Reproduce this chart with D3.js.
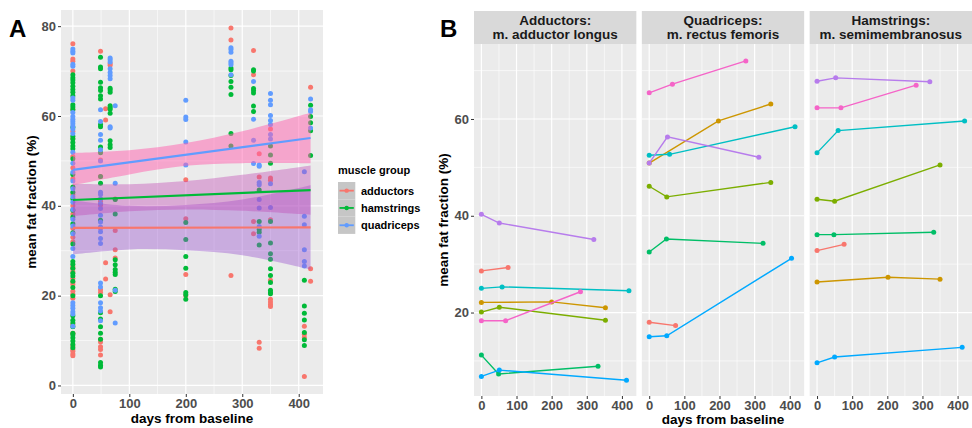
<!DOCTYPE html>
<html lang="en">
  <head>
    <meta charset="UTF-8" />
    <title>mean fat fraction</title>
    <style>
      * {
        margin: 0;
        padding: 0;
      }
      body {
        background: #fff;
      }
      svg text {
        font-family: 'Liberation Sans', Arial, sans-serif;
        font-weight: bold;
      }
    </style>
  </head>
  <body>
    <script src="https://cdn.jsdelivr.net/npm/d3@7"></script>
    <script>
      // ---- panel A data ----
      const groups = ['adductors', 'hamstrings', 'quadriceps']
      const groupColors = ['#F8766D', '#00BA38', '#619CFF']

      // [day, values at that day]
      const adductorPts = [
        [0, [76.1, 72.7, 72.2, 70.0, 61.5, 56.6, 55.0, 51.0, 48.5, 46.0, 42.5, 40.0, 38.2, 35.0, 33.0, 32.0, 26.5, 26.0, 25.3, 23.8, 23.0, 22.5, 21.0, 20.3, 19.4, 13.5, 11.6, 8.8, 8.0, 7.6, 7.0, 6.6]],
        [49, [74.4, 50.2, 46.5, 41.0, 40.2, 35.0, 21.3, 20.7, 10.3, 9.7, 8.6, 8.0, 6.8]],
        [58, [61.6, 59.1, 27.3, 23.7]],
        [66, [71.7, 71.3, 20.2, 16.4]],
        [75, [41.5, 34.5, 30.2, 28.4]],
        [200, [45.8, 37.1, 24.7, 20.0]],
        [280, [79.6, 76.9, 24.5]],
        [320, [74.6, 69.2, 36.5, 33.8]],
        [330, [51.6, 46.4, 9.6, 8.3]],
        [350, [57.1, 46.2, 45.7, 36.9, 23.4, 19.2, 18.6, 18.0, 17.6]],
        [410, [13.2, 11.4, 10.7, 2.0]],
        [421, [66.4, 26.0, 23.2]]
      ]
      const hamstringPts = [
        [0, [69.2, 68.5, 68.0, 67.4, 66.6, 65.9, 65.3, 64.5, 62.5, 62.0, 61.4, 57.5, 55.5, 54.9, 54.1, 53.3, 52.7, 50.5, 47.0, 44.2, 43.0, 41.5, 39.0, 37.5, 36.0, 34.0, 31.5, 27.6, 27.0, 26.1, 25.0, 24.4, 23.2, 21.8, 20.0, 15.5, 14.5, 13.9, 13.1, 11.6, 11.3, 10.6, 9.9, 9.1, 8.4]],
        [49, [73.1, 70.9, 70.5, 67.5, 66.3, 65.7, 64.5, 63.8, 58.1, 57.6, 53.1, 51.8, 46.5, 45.0, 36.8, 20.0, 16.2, 14.8, 13.1, 11.6, 10.3, 5.1, 4.5, 4.1]],
        [66, [66.2, 65.8, 65.3, 62.3, 61.9, 61.5, 60.6, 54.5, 53.6, 53.0]],
        [75, [41.4, 38.2, 28.0, 26.9, 25.8, 25.2, 24.7, 21.4, 20.9]],
        [200, [36.3, 32.5, 28.7, 26.1, 20.7, 20.2, 19.2]],
        [280, [70.7, 70.3, 69.0, 67.7, 66.4, 64.8, 56.1, 53.3]],
        [320, [70.3, 70.0, 66.1, 65.7, 65.1, 62.2, 61.0]],
        [330, [43.5, 36.5, 34.7, 34.1, 31.3]],
        [350, [53.3, 51.3, 49.5, 36.5, 31.7, 29.3, 28.1, 26.0, 24.5, 22.9, 21.2, 20.7, 20.4]],
        [410, [23.4, 17.7, 16.1, 14.6, 11.8, 10.2, 8.9]],
        [421, [62.4, 59.9, 58.5, 56.7, 51.2]]
      ]
      const quadricepsPts = [
        [0, [74.9, 74.4, 74.0, 71.5, 71.1, 64.0, 63.5, 60.8, 59.9, 59.3, 58.8, 58.3, 57.7, 57.1, 56.1, 51.9, 49.5, 47.5, 45.5, 43.8, 42.0, 40.8, 39.2, 37.0, 35.5, 33.8, 30.5, 28.7, 18.4, 17.8, 17.2, 16.4, 15.9, 13.2]],
        [49, [61.4, 58.8, 55.9, 54.6, 52.5, 50.0, 43.0, 42.5, 41.6, 40.5, 39.4, 37.9, 36.4, 35.3, 34.2, 32.7, 31.6, 22.8, 21.9, 18.4, 17.3, 16.6, 14.4]],
        [66, [72.9, 72.5, 72.0, 70.5, 69.7, 69.0, 68.3, 57.6, 57.3]],
        [75, [62.3, 45.0, 21.2, 13.9]],
        [200, [63.5, 59.8, 59.2, 54.2, 49.1]],
        [280, [75.2, 74.8, 74.2, 72.2, 71.8, 71.4, 69.2]],
        [320, [67.7, 59.3, 54.6, 49.4]],
        [330, [49.1, 48.8, 45.2, 44.7, 41.4, 39.5, 35.4, 33.2]],
        [350, [65.0, 63.5, 62.5, 60.1, 59.0, 58.1, 55.9, 54.9, 44.9, 39.6]],
        [410, [47.6, 37.7, 35.8, 30.2, 27.6, 26.6]],
        [421, [63.8, 61.4, 61.0, 57.3]]
      ]

      // linear fits: value at first and last day
      const fitDays = [0, 421]
      const fitLines = [
        [35.1, 35.2],
        [41.3, 43.5],
        [48.0, 55.1]
      ]
      // confidence bands [low, high] at bandDays
      const bandDays = [0, 100, 200, 300, 421]
      const adductorBand = [[29.2, 41.2], [30.3, 40.0], [30.1, 40.2], [29.0, 41.4], [25.8, 44.6]]
      const hamstringBand = [[37.7, 44.9], [38.8, 44.8], [39.2, 45.5], [38.9, 46.9], [38.0, 49.0]]
      const quadricepsBand = [[44.6, 51.8], [47.0, 52.4], [48.9, 54.0], [49.5, 56.6], [49.5, 60.7]]
      const bandFills = ['#9a55d0', '#c048b4', '#ff5fae']
      const bandAlpha = [0.42, 0.4, 0.5]

      // ---- panel B data ----
      const facetTitles = [
        ['Adductors:', 'm. adductor longus'],
        ['Quadriceps:', 'm. rectus femoris'],
        ['Hamstrings:', 'm. semimembranosus']
      ]
      const subjectColors = ['#F8766D', '#CD9600', '#7CAE00', '#00BE67', '#00BFC4', '#00A9FF', '#B77CEC', '#F564C8']
      // one entry per subject (same order as colours): [[day, value], ...]
      const longus = [
        [[0, 28.6], [76, 29.3]],
        [[0, 22.1], [200, 22.2], [353, 21.0]],
        [[0, 20.1], [51, 21.1], [353, 18.4]],
        [[0, 11.2], [49, 7.3], [332, 8.9]],
        [[0, 25.0], [59, 25.3], [420, 24.5]],
        [[0, 6.8], [51, 8.1], [413, 6.0]],
        [[0, 40.3], [51, 38.5], [320, 35.1]],
        [[0, 18.3], [69, 18.3], [282, 24.3]]
      ]
      const rectus = [
        [[0, 18.0], [75, 17.3]],
        [[0, 50.9], [197, 59.6], [346, 63.1]],
        [[0, 46.1], [50, 43.9], [346, 46.9]],
        [[0, 32.5], [49, 35.2], [324, 34.3]],
        [[0, 52.5], [58, 52.7], [415, 58.4]],
        [[0, 15.0], [50, 15.2], [405, 31.2]],
        [[0, 50.9], [52, 56.3], [312, 52.1]],
        [[0, 65.4], [66, 67.2], [275, 72.0]]
      ]
      const semimembranosus = [
        [[0, 32.8], [77, 34.1]],
        [[0, 26.3], [202, 27.3], [350, 26.9]],
        [[0, 43.4], [50, 43.0], [350, 50.5]],
        [[0, 36.1], [48, 36.1], [332, 36.6]],
        [[0, 53.0], [60, 57.6], [420, 59.6]],
        [[0, 9.6], [50, 10.8], [413, 12.8]],
        [[0, 67.8], [53, 68.5], [321, 67.7]],
        [[0, 62.3], [68, 62.3], [282, 67.0]]
      ]

      const xTicks = [0, 100, 200, 300, 400]
      const xMinor = [50, 150, 250, 350]
      const yTicksA = [0, 20, 40, 60, 80]
      const yMinorA = [10, 30, 50, 70]
      const yTicksB = [20, 40, 60]
      const yMinorB = [10, 30, 50, 70]

      const W = 972
      const H = 428
      const panelBg = '#EBEBEB'
      const tickCol = '#4D4D4D'

      const svg = d3
        .select('body')
        .append('svg')
        .attr('width', W)
        .attr('height', H)
      svg.append('rect').attr('width', W).attr('height', H).attr('fill', '#fff')

      function grid(g, x, y, x0, x1, y0, y1, xMaj, xMin, yMaj, yMin) {
        g.append('rect')
          .attr('x', x0)
          .attr('y', y0)
          .attr('width', x1 - x0)
          .attr('height', y1 - y0)
          .attr('fill', panelBg)
        g.selectAll(null)
          .data(yMin)
          .join('line')
          .attr('x1', x0)
          .attr('x2', x1)
          .attr('y1', d => y(d))
          .attr('y2', d => y(d))
          .attr('stroke', '#fff')
          .attr('stroke-width', 0.6)
        g.selectAll(null)
          .data(xMin)
          .join('line')
          .attr('y1', y0)
          .attr('y2', y1)
          .attr('x1', d => x(d))
          .attr('x2', d => x(d))
          .attr('stroke', '#fff')
          .attr('stroke-width', 0.6)
        g.selectAll(null)
          .data(yMaj)
          .join('line')
          .attr('x1', x0)
          .attr('x2', x1)
          .attr('y1', d => y(d))
          .attr('y2', d => y(d))
          .attr('stroke', '#fff')
          .attr('stroke-width', 1.2)
        g.selectAll(null)
          .data(xMaj)
          .join('line')
          .attr('y1', y0)
          .attr('y2', y1)
          .attr('x1', d => x(d))
          .attr('x2', d => x(d))
          .attr('stroke', '#fff')
          .attr('stroke-width', 1.2)
      }

      function xAxis(g, x, yPos) {
        g.append('g')
          .attr('transform', `translate(0,${yPos})`)
          .call(d3.axisBottom(x).tickValues(xTicks).tickSize(3).tickPadding(2))
          .call(a => a.select('.domain').remove())
          .call(a => a.selectAll('line').attr('stroke', '#333'))
          .call(a =>
            a.selectAll('text').attr('fill', tickCol).attr('font-size', 13).style('font-weight', 'bold')
          )
      }

      function yAxis(g, y, xPos, ticks) {
        g.append('g')
          .attr('transform', `translate(${xPos},0)`)
          .call(d3.axisLeft(y).tickValues(ticks).tickSize(3).tickPadding(2))
          .call(a => a.select('.domain').remove())
          .call(a => a.selectAll('line').attr('stroke', '#333'))
          .call(a =>
            a.selectAll('text').attr('fill', tickCol).attr('font-size', 13).style('font-weight', 'bold')
          )
      }

      // ================= panel A =================
      const A = { x0: 61, x1: 323, y0: 10, y1: 394 }
      const xA = d3.scaleLinear().domain([-21, 443]).range([A.x0, A.x1])
      const yA = d3.scaleLinear().domain([-1.9, 83.6]).range([A.y1, A.y0])
      const gA = svg.append('g')
      grid(gA, xA, yA, A.x0, A.x1, A.y0, A.y1, xTicks, xMinor, yTicksA, yMinorA)

      const ptSets = [adductorPts, hamstringPts, quadricepsPts]
      const points = []
      ptSets.forEach((set, gi) => {
        set.forEach(([day, vals]) => vals.forEach(v => points.push({ day, v, gi })))
      })
      gA.selectAll(null)
        .data(points)
        .join('circle')
        .attr('cx', d => xA(d.day))
        .attr('cy', d => yA(d.v))
        .attr('r', 2.5)
        .attr('fill', d => groupColors[d.gi])

      const bands = [adductorBand, hamstringBand, quadricepsBand]
      const area = d3
        .area()
        .x((d, i) => xA(bandDays[i]))
        .y0(d => yA(d[0]))
        .y1(d => yA(d[1]))
        .curve(d3.curveCatmullRom)
      bands.forEach((b, i) => {
        gA.append('path')
          .attr('d', area(b))
          .attr('fill', bandFills[i])
          .attr('fill-opacity', bandAlpha[i])
        gA.append('line')
          .attr('x1', xA(fitDays[0]))
          .attr('x2', xA(fitDays[1]))
          .attr('y1', yA(fitLines[i][0]))
          .attr('y2', yA(fitLines[i][1]))
          .attr('stroke', groupColors[i])
          .attr('stroke-width', 2.2)
      })

      xAxis(gA, xA, A.y1)
      yAxis(gA, yA, A.x0, yTicksA)

      gA.append('text')
        .attr('x', (A.x0 + A.x1) / 2)
        .attr('y', 423)
        .attr('text-anchor', 'middle')
        .attr('font-size', 13.5)
        .text('days from baseline')
      gA.append('text')
        .attr('transform', `translate(36,${(A.y0 + A.y1) / 2}) rotate(-90)`)
        .attr('text-anchor', 'middle')
        .attr('font-size', 13.5)
        .text('mean fat fraction (%)')
      svg.append('text').attr('x', 9).attr('y', 37).attr('font-size', 24).text('A')

      // legend
      const lg = svg.append('g').attr('transform', 'translate(338,174)')
      lg.append('text').attr('x', 0).attr('y', 0).attr('font-size', 11).text('muscle group')
      groups.forEach((name, i) => {
        const ky = 8 + i * 17.3
        lg.append('rect')
          .attr('x', 0)
          .attr('y', ky)
          .attr('width', 17.3)
          .attr('height', 17.3)
          .attr('fill', '#C6C6C6')
        lg.append('line')
          .attr('x1', 1.5)
          .attr('x2', 15.8)
          .attr('y1', ky + 8.65)
          .attr('y2', ky + 8.65)
          .attr('stroke', groupColors[i])
          .attr('stroke-width', 1.8)
        lg.append('circle')
          .attr('cx', 8.65)
          .attr('cy', ky + 8.65)
          .attr('r', 2.2)
          .attr('fill', groupColors[i])
        lg.append('text')
          .attr('x', 23)
          .attr('y', ky + 12.6)
          .attr('font-size', 11)
          .text(name)
      })

      // ================= panel B =================
      const B = { left: 474, right: 972, top: 44, bottom: 396, strip: 11, gap: 5.5 }
      const fw = (B.right - B.left - 2 * B.gap) / 3
      const yB = d3.scaleLinear().domain([2.75, 75.5]).range([B.bottom, B.top])
      const facetData = [longus, rectus, semimembranosus]
      const line = d3.line()

      facetData.forEach((subjects, fi) => {
        const x0 = B.left + fi * (fw + B.gap)
        const x1 = x0 + fw
        const xB = d3.scaleLinear().domain([-21, 441]).range([x0, x1])
        const g = svg.append('g')
        grid(g, xB, yB, x0, x1, B.top, B.bottom, xTicks, xMinor, yTicksB, yMinorB)

        // strip
        g.append('rect')
          .attr('x', x0)
          .attr('y', B.strip)
          .attr('width', fw)
          .attr('height', B.top - B.strip)
          .attr('fill', '#D9D9D9')
        facetTitles[fi].forEach((t, li) => {
          g.append('text')
            .attr('x', (x0 + x1) / 2)
            .attr('y', 25 + li * 13.8)
            .attr('text-anchor', 'middle')
            .attr('font-size', 13.5)
            .attr('fill', '#1A1A1A')
            .text(t)
        })

        subjects.forEach((pts, si) => {
          g.append('path')
            .attr('d', line(pts.map(p => [xB(p[0]), yB(p[1])])))
            .attr('fill', 'none')
            .attr('stroke', subjectColors[si])
            .attr('stroke-width', 1.4)
          g.selectAll(null)
            .data(pts)
            .join('circle')
            .attr('cx', d => xB(d[0]))
            .attr('cy', d => yB(d[1]))
            .attr('r', 2.5)
            .attr('fill', subjectColors[si])
        })

        xAxis(g, xB, B.bottom)
        if (fi === 0) yAxis(g, yB, x0, yTicksB)
      })

      svg.append('text')
        .attr('x', B.left + (B.right - B.left) / 2)
        .attr('y', 424)
        .attr('text-anchor', 'middle')
        .attr('font-size', 13.5)
        .text('days from baseline')
      svg.append('text')
        .attr('transform', `translate(448,${(B.top + B.bottom) / 2}) rotate(-90)`)
        .attr('text-anchor', 'middle')
        .attr('font-size', 13.5)
        .text('mean fat fraction (%)')
      svg.append('text').attr('x', 440).attr('y', 37).attr('font-size', 24).text('B')
    </script>
  </body>
</html>
